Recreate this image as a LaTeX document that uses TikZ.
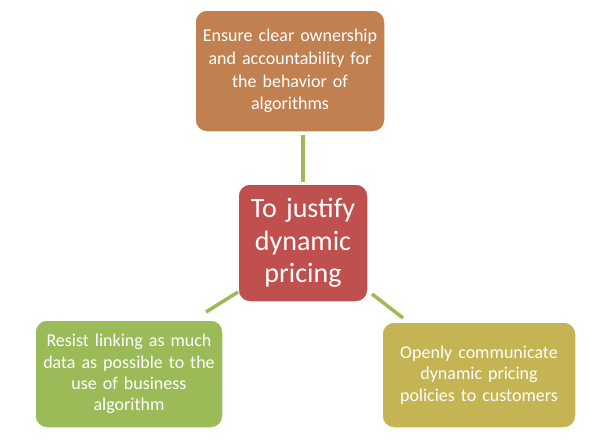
\documentclass[tikz,border=0pt]{standalone}
\usepackage{fontspec}
\setmainfont{Carlito}
\begin{document}
\begin{tikzpicture}[x=1pt,y=-1pt,
 box/.style={rounded corners=12pt,draw=white,line width=1.5pt,text=white,align=center,inner sep=0pt,font=\fontsize{18}{21.3}\selectfont},
 con/.style={draw={rgb,255:red,155;green,187;blue,89},line width=3.5pt}]
\useasboundingbox (0,0) rectangle (609,439);
\definecolor{cT}{RGB}{192,128,79}
\definecolor{cC}{RGB}{192,80,77}
\definecolor{cL}{RGB}{155,187,89}
\definecolor{cR}{RGB}{196,180,84}
\node[box,fill=cT,minimum width=190pt,minimum height=122pt,text width=185pt,font=\fontsize{18}{22.6}\selectfont] (t) at (290,71) {Ensure clear ownership\\and accountability for\\the behavior of\\algorithms\\[16pt]};
\node[box,fill=cC,minimum width=130pt,minimum height=118pt,text width=125pt,font=\fontsize{28}{32.5}\selectfont] (c) at (303,243) {To justify\\dynamic\\pricing};
\node[box,fill=cL,minimum width=188pt,minimum height=108pt,text width=185pt] (l) at (129,374) {Resist linking as much\\data as possible to the\\use of business\\algorithm};
\node[box,fill=cR,minimum width=194pt,minimum height=106pt,text width=190pt] (r) at (479,375) {Openly communicate\\dynamic pricing\\policies to customers};
\coordinate (t1) at (303,135); \coordinate (c1) at (303,182);
\coordinate (l1) at (206,312); \coordinate (c2) at (238,292);
\coordinate (r1) at (403,318); \coordinate (c3) at (372,294);
\draw[con] (t1) -- (c1);
\draw[con] (l1) -- (c2);
\draw[con] (r1) -- (c3);
\end{tikzpicture}
\end{document}
